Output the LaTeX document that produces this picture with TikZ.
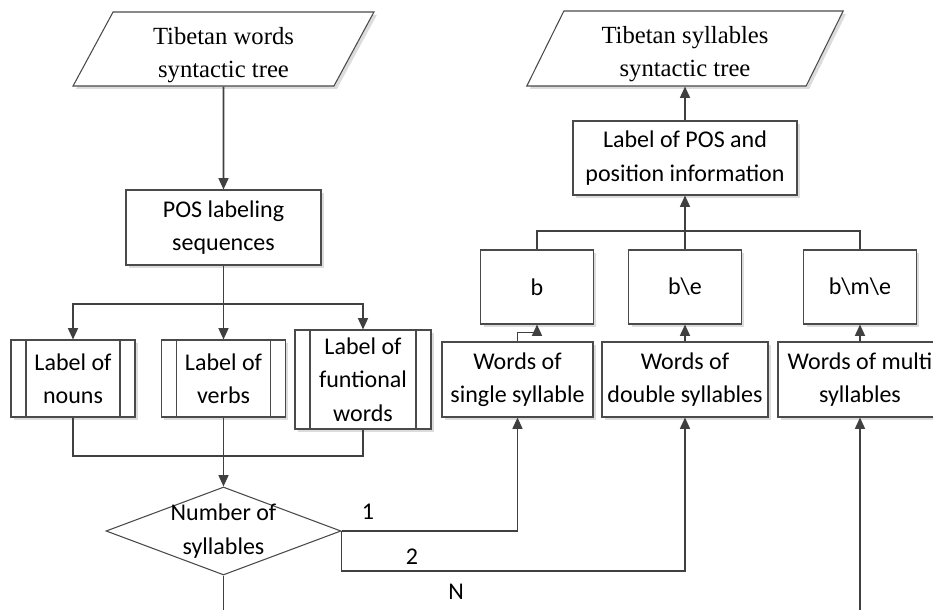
\documentclass[tikz,border=0pt]{standalone}
\usepackage{fontspec}
\setmainfont{Liberation Serif}
\newfontfamily\sansf{Carlito}
\usetikzlibrary{shapes.geometric,shadows,arrows.meta}
\definecolor{linec}{HTML}{404040}
\definecolor{boxc}{HTML}{4A4A4A}
\definecolor{shadowc}{HTML}{DCDCDC}
\newcommand{\iotext}[2]{\raisebox{-8pt}[18pt][18pt]{\begin{tabular}{@{}c@{}}#1\\#2\end{tabular}}}
\begin{document}
\begin{tikzpicture}[x=0.75pt,y=-0.75pt,
  line/.style={draw=linec, line width=1.2pt},
  arr/.style={line, -{Triangle[length=8.5pt,width=7.5pt]}},
  shad/.style={drop shadow={shadow xshift=2.2pt, shadow yshift=-2.2pt, fill=shadowc, opacity=1}},
  sanstext/.style={font=\sansf\fontsize{18}{25}\selectfont},
  box/.style={rectangle, draw=boxc, line width=0.8pt, fill=white, align=center, inner sep=0pt, sanstext, shad},
  proc/.style={box, path picture={
     \draw[boxc, line width=0.8pt]
       ([xshift=11.25pt]path picture bounding box.north west) -- ([xshift=11.25pt]path picture bounding box.south west)
       ([xshift=-11.25pt]path picture bounding box.north east) -- ([xshift=-11.25pt]path picture bounding box.south east);}},
  io/.style={trapezium, trapezium left angle=62, trapezium right angle=118, trapezium stretches=true,
     draw=boxc, line width=0.8pt, fill=white, inner sep=0pt,
     font=\fontsize{18.5}{24.75}\selectfont, shad},
  dec/.style={diamond, draw=boxc, line width=0.8pt, fill=white, inner sep=0pt},
  lbl/.style={sanstext, inner sep=0pt}
]
\useasboundingbox (0,0) rectangle (933,610);
\clip (0,0) rectangle (933,610);

% left column
\node[io, minimum width=225.75pt, minimum height=55.5pt] (tw) at (223.5,49) {\iotext{Tibetan words}{syntactic tree}};
\node[box, minimum width=146.25pt, minimum height=56.25pt] (pos) at (223.5,227.5) {POS labeling\\sequences};
\node[proc, minimum width=93pt, minimum height=57.75pt] (nouns) at (73,378.5) {Label of\\nouns};
\node[proc, minimum width=93pt, minimum height=57.75pt] (verbs) at (223.5,378.5) {Label of\\verbs};
\node[proc, minimum width=102pt, minimum height=74.25pt] (func) at (363,379.5) {Label of\\funtional\\words};
\node[dec, minimum width=176.25pt, minimum height=66pt] (dia) at (223.5,531) {};
\node[lbl, align=center] (diat) at (dia.center) {Number of\\syllables};

% right column
\node[io, minimum width=237.75pt, minimum height=56.25pt] (ts) at (685,48.5) {\iotext{Tibetan syllables}{syntactic tree}};
\node[box, minimum width=168pt, minimum height=55.5pt] (lab) at (685,158) {Label of POS and\\position information};
\node[box, minimum width=84.5pt, minimum height=55.5pt] (b) at (537,287) {b};
\node[box, minimum width=84.5pt, minimum height=55.5pt] (be) at (685,287) {b\textbackslash{}e};
\node[box, minimum width=84.5pt, minimum height=55.5pt] (bme) at (860,287) {b\textbackslash{}m\textbackslash{}e};
\node[box, minimum width=113.25pt, minimum height=56.25pt] (ws) at (517.5,379.5) {Words of\\single syllable};
\node[box, minimum width=124.5pt, minimum height=56.25pt] (wd) at (685,379.5) {Words of\\double syllables};
\node[box, minimum width=123pt, minimum height=56.25pt] (wm) at (860,379.5) {Words of multi\\syllables};

% labels
\node[lbl] (l1) at (368,512) {1};
\node[lbl] (l2) at (412,557) {2};
\node[lbl] (lN) at (456,592) {N};

% coordinates
\coordinate (sp) at (223.5,304);
\coordinate (mg) at (223.5,456);
\coordinate (tm) at (685,231);

% connectors left
\draw[arr] (tw.south) -- (pos.north);
\draw[line] (pos.south) -- (sp);
\draw[arr] (sp) -| (nouns.north);
\draw[arr] (sp) -- (verbs.north);
\draw[arr] (sp) -| (func.north);
\draw[line] (nouns.south) |- (mg) -| (func.south);
\draw[arr] (verbs.south) -- (dia.north);

% connectors right
\draw[arr] (lab.north) -- (ts.south);
\draw[arr] (be.north) -- (lab.south);
\draw[line] (b.north) |- (tm) -| (bme.north);
\draw[arr] (ws.north) -- ++(0,-9) -| (b.south);
\draw[arr] (wd.north) -- (be.south);
\draw[arr] (wm.north) -- (bme.south);

% from decision
\draw[arr] (dia.east) -| (ws.south);
\draw[arr] (dia.east) -- ++(0,40) -| (wd.south);
\draw[arr] (dia.south) -- ++(0,60) -| (wm.south);
\end{tikzpicture}
\end{document}
